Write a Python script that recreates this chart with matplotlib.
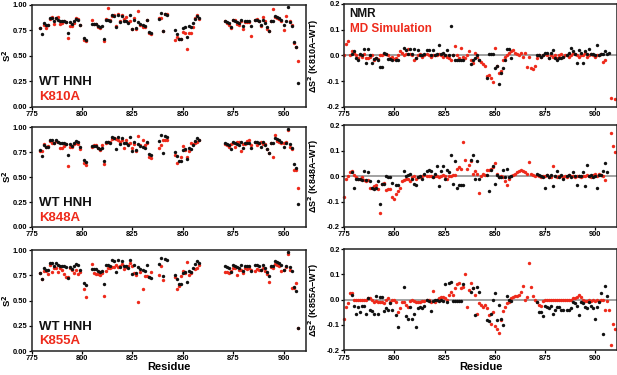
import numpy as np
import matplotlib
matplotlib.use('Agg')
import matplotlib.pyplot as plt

plt.rcParams['font.family'] = ['Liberation Sans', 'DejaVu Sans']
plt.rcParams['font.weight'] = 'bold'

nan = np.nan

# residues with NMR data
res_nmr = [779, 780, 781, 782, 783, 784, 785, 786, 787, 788, 789, 790, 791, 792, 793, 794, 795, 796, 797, 798, 799,
           801, 802,
           805, 806, 807, 808, 809, 810, 811, 812, 813, 814, 815, 816, 817, 818, 819, 820, 821, 822, 823, 824, 825,
           826, 827, 828, 829, 830, 831, 832, 833, 834,
           838, 839, 840, 841, 842,
           846, 847, 848, 849, 850, 851, 852, 853, 854, 855, 856, 857, 858,
           871, 872, 873, 874, 875, 876, 877, 878, 879, 880, 881, 882, 883, 884,
           886, 887, 888, 889, 890, 891, 892, 893, 894, 895, 896, 897, 898, 899, 900, 901, 902, 903, 904, 905, 906, 907]
# residues in the MD runs
res_md = np.arange(775, 911)

s2_wt = [.77, .71, .82, .80, .80, .87, .87, .84, .87, .85, .84, .84, .84, .83, .72, .83, .81, .84, .86, .85, .80,
         .67, .65,
         .81, .81, .81, .79, .78, .79, .66, .85, .85, .84, .90, .89, .78, .90, .83, .89, .84, .84, .82, .90, .76,
         .85, .77, .83, .81, .80, .79, .85, .73, .72,
         .86, .92, .74, .91, .90,
         .75, .71, .66, .66, .77, .78, .68, .79, .78, .82, .86, .89, .87,
         .84, .83, .82, .78, .85, .84, .83, .82, .85, .79, .84, .84, .84, .79,
         .85, .85, .84, .80, .85, .82, .78, .74, .84, .84, .89, .88, .87, .85, .80, .84, .98, .83, .79, .63, .59, .23]

s2_k810a = [.77, nan, .80, .77, .80, .86, .88, .81, .87, .88, .81, .82, .84, .83, .67, .79, .79, .82, .87, .86, .80,
            .65, .64,
            .85, .81, .81, .78, .77, nan, .64, .86, .97, .85, .89, .90, .79, .91, .84, .90, .86, .88, .83, .84, .76,
            .87, .76, .94, .80, .78, .78, .85, .72, .71,
            .87, .87, .74, .91, .91,
            .65, .68, .66, .66, .73, .72, .57, .72, .72, .78, .87, .90, .86,
            .84, .82, .80, .77, .85, .85, .81, .80, .84, .76, .83, .83, .83, .69,
            .85, .86, .84, .79, .88, .84, .76, .74, .84, .96, .88, .87, .86, .84, .75, .89, nan, .84, .80, .62, .59, .45]

s2_k848a = [.76, .76, .83, .80, .81, .86, .84, .84, .86, .85, .79, .79, .81, .83, .61, .80, .80, .83, .84, .83, .78,
            .64, .62,
            .80, .82, .82, .79, .77, .82, .63, .84, .85, .85, .88, .89, .88, .87, .85, .87, .79, .87, .83, .84, .79,
            .83, .76, .91, .82, .87, .82, .84, .70, .69,
            .79, .82, .87, .87, .87,
            .72, .64, nan, .70, .81, .77, .70, .76, .84, .83, .84, .85, .87,
            .83, .82, .80, .83, .84, .80, .85, .85, .76, .83, .83, .86, .87, .82,
            .85, .82, .84, .85, .83, .83, .78, .74, .84, .70, .92, .86, .85, .84, .84, .85, .97, .80, .78, .57, .57, .39]

s2_k855a = [.77, .71, .79, .79, .76, .85, .78, .82, .82, .78, .82, .80, .76, .73, .73, .82, .80, .77, .80, .76, .78,
            .61, .54,
            .86, .77, .76, .76, .75, .77, .55, .79, .82, .82, .83, .83, .85, .83, .84, .86, .81, .83, .84, .87, .84,
            .77, .75, .49, .78, .61, .74, .74, .73, .78,
            .75, .84, .70, nan, nan,
            .73, .61, .64, .74, .79, .77, .88, .75, .77, nan, .81, .82, .85,
            .78, .78, .77, .79, .82, .82, .75, .80, .80, .77, .82, .81, .82, .80,
            .79, .81, .80, .80, .82, .79, .76, .68, .83, .82, .86, .85, .84, .79, .80, .83, .96, .80, .62, .62, .67, .23]

d_nmr_k810a = [.005, .015, -.01, -.02, .005, 0, .025, -.03, .025, 0, -.03, -.015, -.01, -.02, -.045, -.045, .01, .005, -.015, -.015, -.02,
               -.02, -.02,
               .03, .02, .005, .025, .005, .025, -.01, .02, 0, 0, .005, .02, .02, 0, .02, 0, .005, .04, .005, .01, 0,
               .02, 0, .115, 0, -.02, -.02, -.02, -.02, -.02,
               -.035, -.02, -.01, 0, -.02,
               -.09, .005, .005, .005, -.05, -.04, -.11, -.07, -.05, -.02, .025, .025, -.01,
               0, 0, -.005, 0, .01, .01, -.01, .01, .02, -.01, -.02, -.01, -.01, -.005,
               0, .01, .03, .015, .005, -.03, .02, .01, -.03, .015, .005, .025, .005, .005, 0, .04, 0, .005, .005, .015, .005, .01]

d_nmr_k848a = [.015, -.045, -.01, -.01, -.01, -.015, .02, -.015, .015, -.02, -.045, -.05, -.045, -.02, -.11, -.03, -.03, 0, -.005, -.005, -.025,
               -.035, -.035,
               .02, 0, .005, .01, -.01, -.03, -.035, -.005, 0, -.01, .01, .02, .025, .02, -.005, .01, .04, -.04, .02, .04, -.01,
               .025, .015, .085, -.03, .06, -.045, -.035, -.035, -.035,
               .065, .085, -.01, .06, -.01,
               .005, -.06, .025, .04, -.03, .005, -.005, -.005, .025, -.005, .03, -.005, 0,
               .01, .005, 0, -.005, -.045, .005, -.005, .005, -.04, 0, .02, -.005, .005, -.01,
               0, .005, -.005, .015, 0, -.035, 0, 0, .015, -.04, .045, 0, .005, -.005, 0, -.045, .005, .005, .02, .05, .015, nan]

d_nmr_k855a = [.02, -.025, -.055, -.03, -.05, -.025, -.025, -.055, .005, -.04, -.045, -.055, .015, -.055, .01, .01, -.045, -.035, -.04, -.015, -.04,
               -.06, -.11,
               .05, -.065, -.075, -.03, -.075, -.055, -.11, -.035, -.03, -.035, -.025, 0, -.005, -.045, -.005, 0, 0, -.005, 0, -.005, .06,
               -.01, .065, .07, -.005, -.005, -.005, -.005, -.005, .06,
               .03, .045, -.06, .05, .03,
               -.08, -.085, -.055, 0, .025, -.08, -.02, -.075, -.1, nan, .015, 0, -.005,
               -.01, -.05, -.05, -.065, -.025, -.03, -.035, -.025, -.055, -.04, -.03, -.03, -.04, -.04,
               -.04, -.04, -.035, -.01, -.015, -.025, -.06, -.01, -.015, -.03, -.035, -.01, -.025, -.035, -.075, -.03, -.01, .025, -.135, .055, .015, nan]

d_md_k810a = [0, .045, .055, 0, .015, .01, 0, -.01, 0, -.005, .005, -.01, -.01, -.005, 0, -.02, -.01, -.015, 0, 0, .005, .005, 0, -.01, -.005,
              -.015, -.01, 0, .015, .01, 0, .005, .025, .005, 0, -.02, -.01, 0, .005, -.005, 0, .005, 0, -.005, 0, 0, 0, .005, 0, -.005,
              0, -.005, -.01, -.02, 0, .035, 0, -.01, .03, -.005, -.01, 0, .015, -.02, -.03, .01, -.005, -.02, -.025, -.035, -.04, -.08, -.075, -.09, -.105,
              .03, -.04, -.07, -.06, -.02, -.005, 0, .01, .015, .02, .01, .005, 0, .01, -.005, .01, -.045, -.005, -.05, -.055, -.04, -.01, 0, -.005, 0,
              .005, 0, -.01, 0, -.005, 0, -.01, 0, .005, -.005, 0, 0, -.005, 0, .01, .005, 0, -.005, 0, 0, .01, -.005, 0, .005, 0,
              -.005, 0, 0, .005, -.025, -.02, nan, nan, -.165, nan, -.17]

d_md_k848a = [-.08, -.01, 0, .018, .02, .005, -.005, -.01, -.01, -.005, -.015, -.02, -.015, -.045, -.045, -.04, -.035, -.05, -.145, -.03, -.025, -.055, -.05, -.05, -.08,
              -.09, -.07, -.06, -.045, -.02, -.015, -.01, -.01, -.02, -.005, 0, -.01, -.005, -.005, 0, .005, 0, 0, 0, -.005, 0, 0, -.005, 0, .005,
              0, -.01, 0, 0, .005, .005, .03, .035, .03, .135, .065, .03, .045, .06, .01, .02, .01, -.065, 0, .01, .005, .025, .025, .03, .035,
              .05, .01, -.005, 0, -.005, -.02, -.035, -.01, 0, .005, .01, .015, .02, .025, .02, .015, .01, .055, .01, .005, 0, .005, 0, -.005, 0,
              0, .005, -.005, -.005, .04, 0, -.005, 0, 0, -.005, 0, -.005, .005, 0, 0, -.005, 0, 0, -.005, 0, 0, .005, 0, -.005, .005,
              .01, 0, .01, .005, 0, -.015, nan, nan, .17, .12, .095]

d_md_k855a = [-.075, -.03, -.015, .028, .025, 0, 0, 0, 0, 0, 0, 0, .005, .005, 0, -.01, -.005, -.01, -.01, -.01, -.015, 0, .005, -.01, 0,
              0, -.01, -.05, -.035, -.01, -.01, -.02, -.03, -.005, 0, -.005, -.01, -.01, -.01, -.005, -.005, 0, 0, -.01, .035, -.01, 0, .005, .01, .01,
              .005, 0, .02, .03, .02, .045, .06, .065, .045, .05, .10, -.03, .04, .065, .045, .02, -.055, -.015, -.02, -.03, -.02, -.035, -.06, -.095, -.05,
              -.105, -.115, -.13, -.08, -.045, -.03, -.015, -.01, .005, .01, .015, .015, .02, .03, .055, 0, .01, .145, .05, .015, 0, -.01, -.02, -.025, -.005,
              0, 0, 0, 0, 0, 0, 0, 0, 0, 0, 0, 0, 0, 0, .005, .005, .01, .02, .01, 0, -.005, -.005, 0, -.005, 0,
              -.005, 0, -.005, 0, 0, -.04, -.005, -.04, -.18, -.095, -.115]

mutants = ['K810A', 'K848A', 'K855A']
s2_mut = [s2_k810a, s2_k848a, s2_k855a]
d_nmr = [d_nmr_k810a, d_nmr_k848a, d_nmr_k855a]
d_md = [d_md_k810a, d_md_k848a, d_md_k855a]

red = '#ee2a1b'
blk = '#111111'
ms = 6

fig = plt.figure(figsize=(6.17, 3.75), dpi=100)
rows_left = [(0.7155, 0.272), (0.3947, 0.266), (0.064, 0.269)]
rows_right = [(0.7155, 0.274), (0.3947, 0.271), (0.066, 0.270)]


def style(ax):
    for sp in ax.spines.values():
        sp.set_linewidth(1.1)
        sp.set_color('#222222')
    ax.tick_params(labelsize=5.4, length=2.2, width=0.9, pad=0.9)
    for lab in ax.get_xticklabels() + ax.get_yticklabels():
        lab.set_fontweight('bold')
    ax.set_xlim(775, 911)
    ax.set_xticks([775, 800, 825, 850, 875, 900])


for i in range(3):
    b, h = rows_left[i]
    ax = fig.add_axes([0.0514, b, 0.444, h])
    ax.scatter(res_nmr, s2_mut[i], s=ms, color=red, linewidths=0, zorder=2)
    ax.scatter(res_nmr, s2_wt, s=ms, color=blk, linewidths=0, zorder=3)
    ax.set_ylim(0, 1)
    ax.set_yticks([0, 0.25, 0.5, 0.75, 1.0])
    ax.set_yticklabels(['0.00', '0.25', '0.50', '0.75', '1.00'])
    ax.set_ylabel('S$^\\mathbf{2}$', fontsize=6.8, fontweight='bold')
    ax.yaxis.set_label_coords(-0.07, 0.5)
    style(ax)
    ax.text(0.027, 0.21, 'WT HNH', transform=ax.transAxes, fontsize=9.5, fontweight='bold', color=blk)
    ax.text(0.027, 0.065, mutants[i], transform=ax.transAxes, fontsize=9.5, fontweight='bold', color=red)
    if i == 2:
        ax.set_xlabel('Residue', fontsize=8, fontweight='bold', labelpad=0)

    b, h = rows_right[i]
    ax = fig.add_axes([0.558, b, 0.442, h])
    ax.axhline(0, color='#9a9a9a', lw=1.3, zorder=1)
    ax.scatter(res_md, d_md[i], s=ms, color=red, linewidths=0, zorder=2, clip_on=False)
    ax.scatter(res_nmr, d_nmr[i], s=ms, color=blk, linewidths=0, zorder=3)
    ax.set_ylim(-0.2, 0.2)
    ax.set_yticks([-0.2, -0.1, 0, 0.1, 0.2])
    ax.set_yticklabels(['-0.2', '-0.1', '0.0', '0.1', '0.2'])
    ax.set_ylabel('\u0394S$^\\mathbf{2}$ (' + mutants[i] + '\u2212WT)', fontsize=6.5, fontweight='bold')
    ax.yaxis.set_label_coords(-0.085, 0.5)
    style(ax)
    if i == 0:
        ax.text(0.02, 0.87, 'NMR', transform=ax.transAxes, fontsize=8.5, fontweight='bold', color=blk)
        ax.text(0.02, 0.725, 'MD Simulation', transform=ax.transAxes, fontsize=8.5, fontweight='bold', color=red)
    if i == 2:
        ax.set_xlabel('Residue', fontsize=8, fontweight='bold', labelpad=0)

fig.savefig('out.png', dpi=100)
